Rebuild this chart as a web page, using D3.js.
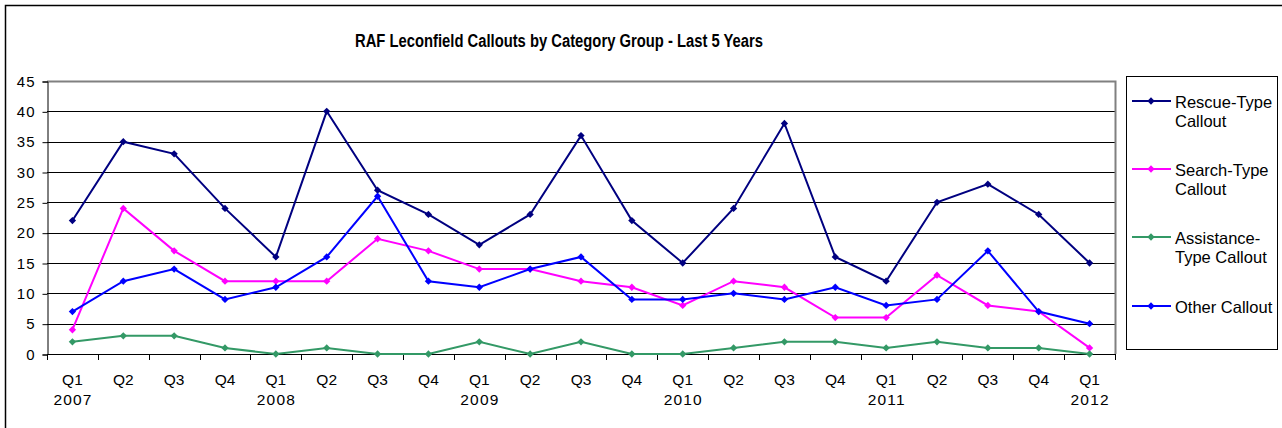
<!DOCTYPE html>
<html><head><meta charset="utf-8">
<script src="https://cdn.jsdelivr.net/npm/d3@7"></script>
<style>body{margin:0;background:#fff;} svg{display:block;font-family:Arial,"Liberation Sans",sans-serif;}</style>
</head><body>
<svg id="c" width="1282" height="428"></svg>
<script>
const quarters = ["Q1","Q2","Q3","Q4","Q1","Q2","Q3","Q4","Q1","Q2","Q3","Q4","Q1","Q2","Q3","Q4","Q1","Q2","Q3","Q4","Q1"];
const years = ["2007","","","","2008","","","","2009","","","","2010","","","","2011","","","","2012"];
const rescue = [22,35,33,24,16,40,27,23,18,23,36,22,15,24,38,16,12,25,28,23,15];
const search = [4,24,17,12,12,12,19,17,14,14,12,11,8,12,11,6,6,13,8,7,1];
const assistance = [2,3,3,1,0,1,0,0,2,0,2,0,0,1,2,2,1,2,1,1,0];
const other = [7,12,14,9,11,16,26,12,11,14,16,9,9,10,9,11,8,9,17,7,5];
const seriesNames = [["Rescue-Type","Callout"],["Search-Type","Callout"],["Assistance-","Type Callout"],["Other Callout"]];
const seriesColors = ["#000080","#FF00FF","#339966","#0000FF"];
const yTicks = [0,5,10,15,20,25,30,35,40,45];
const title = "RAF Leconfield Callouts by Category Group - Last 5 Years";

const series = [rescue, search, assistance, other];
const svg = d3.select("#c");
const L = 47, R = 1115, T = 81, B = 354;
const FONT = "Arial,'Liberation Sans',sans-serif";

// outer border
svg.append("rect").attr("x",5.5).attr("y",5.5).attr("width",1300).attr("height",500)
  .attr("fill","none").attr("stroke","#000").attr("stroke-width",1.5);

svg.append("text").attr("x",559).attr("y",47).attr("text-anchor","middle")
  .attr("font-size",17.5).attr("font-weight","bold")
  .attr("textLength",408).attr("lengthAdjust","spacingAndGlyphs").text(title);

const idx = d3.range(quarters.length);
const x = d3.scaleBand().domain(idx).range([L,R]);
const y = d3.scaleLinear().domain([0,45]).range([B,T]);

// gridlines
svg.append("g").selectAll("line").data(yTicks.filter(t=>t>0 && t<45)).join("line")
  .attr("x1",L).attr("x2",R).attr("y1",d=>Math.round(y(d))+0.5).attr("y2",d=>Math.round(y(d))+0.5)
  .attr("stroke","#000").attr("stroke-width",1);
// plot border top/right gray
svg.append("path").attr("d",`M${L},${T+0.5}H${R+0.5}V${B}`).attr("fill","none").attr("stroke","#808080").attr("stroke-width",2);

// y axis
const yAxis = svg.append("g").attr("transform",`translate(${L+0.5},0.5)`)
  .call(d3.axisLeft(y).tickValues(yTicks).tickSize(5).tickPadding(7));
yAxis.select(".domain").attr("stroke","#000");
yAxis.selectAll("text").attr("font-size",15).attr("letter-spacing",1).attr("fill","#000").attr("font-family",FONT);

// x axis
const xAxis = svg.append("g").attr("transform",`translate(0,${B+0.5})`)
  .call(d3.axisBottom(x).tickSize(0).tickFormat(""));
xAxis.select(".domain").attr("stroke","#000").attr("d",`M${L},0H${R+0.5}`);
xAxis.selectAll(".tick").remove();
svg.append("g").selectAll("line").data(d3.range(quarters.length+1)).join("line")
  .attr("x1",d=>Math.round(L + d*x.step())+0.5).attr("x2",d=>Math.round(L + d*x.step())+0.5)
  .attr("y1",B).attr("y2",B+6).attr("stroke","#000");
svg.append("g").selectAll("text").data(idx).join("text")
  .attr("x",d=>x(d)+x.bandwidth()/2).attr("y",385).attr("text-anchor","middle").attr("font-size",15.5).text(d=>quarters[d]);
svg.append("g").selectAll("text").data(idx.filter(i=>years[i])).join("text")
  .attr("x",d=>x(d)+x.bandwidth()/2+0.6).attr("y",405).attr("text-anchor","middle").attr("font-size",15.5)
  .attr("letter-spacing",1.2).text(d=>years[d]);

const cx = d => x(d)+x.bandwidth()/2;
const diamond = d3.symbol().type(d3.symbolDiamond2).size(34);
series.forEach((s,k)=>{
  const line = d3.line().x((v,i)=>cx(i)).y(v=>y(v));
  svg.append("path").datum(s).attr("d",line).attr("fill","none").attr("stroke",seriesColors[k]).attr("stroke-width",2);
  svg.append("g").selectAll("path").data(s).join("path")
    .attr("transform",(v,i)=>`translate(${cx(i)},${y(v)})`).attr("d",diamond).attr("fill",seriesColors[k]);
});

// legend
svg.append("rect").attr("x",1126.5).attr("y",76.5).attr("width",151).attr("height",273).attr("fill","#fff").attr("stroke","#000");
const ly = [101,169,237,306];
seriesNames.forEach((nm,k)=>{
  const g = svg.append("g");
  g.append("line").attr("x1",1132).attr("x2",1171).attr("y1",ly[k]).attr("y2",ly[k]).attr("stroke",seriesColors[k]).attr("stroke-width",2);
  g.append("path").attr("transform",`translate(1151,${ly[k]})`).attr("d",diamond).attr("fill",seriesColors[k]);
  nm.forEach((t,j)=>{
    g.append("text").attr("x",1175).attr("y",ly[k]+6.5+j*19).attr("font-size",16.5).text(t);
  });
});
</script>
</body></html>
